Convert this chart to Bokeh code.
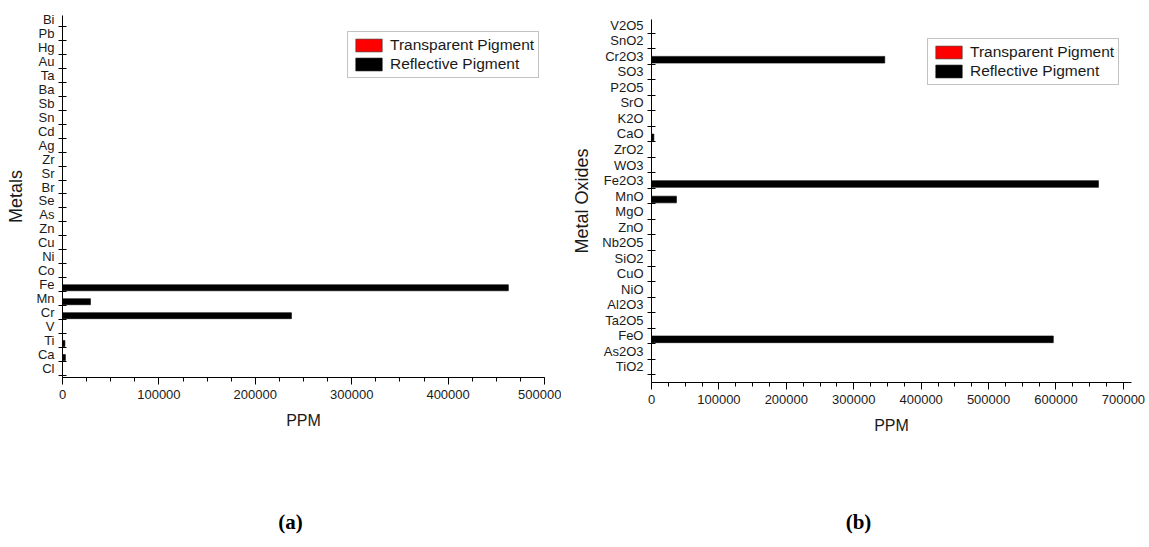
from bokeh.plotting import figure
from bokeh.models import (Range1d, FixedTicker, BasicTickFormatter, Legend, LegendItem,
                          Label, ColumnDataSource)
from bokeh.layouts import column, row
from bokeh.embed import file_html
from bokeh.resources import INLINE

# ---------------- data ----------------
metals = ["Cl", "Ca", "Ti", "V", "Cr", "Mn", "Fe", "Co", "Ni", "Cu", "Zn", "As", "Se",
          "Br", "Sr", "Zr", "Ag", "Cd", "Sn", "Sb", "Ba", "Ta", "Au", "Hg", "Pb", "Bi"]
metals_reflective = [0, 3000, 2500, 0, 237500, 29000, 462500, 0, 0, 0, 0, 0, 0,
                     0, 0, 0, 0, 0, 0, 0, 0, 0, 0, 0, 0, 0]
metals_transparent = [0] * len(metals)

oxides = ["TiO2", "As2O3", "FeO", "Ta2O5", "Al2O3", "NiO", "CuO", "SiO2", "Nb2O5", "ZnO",
          "MgO", "MnO", "Fe2O3", "WO3", "ZrO2", "CaO", "K2O", "SrO", "P2O5", "SO3",
          "Cr2O3", "SnO2", "V2O5"]
oxides_reflective = [0, 0, 596000, 0, 0, 0, 0, 0, 0, 0,
                     0, 37000, 663000, 0, 0, 3500, 0, 0, 0, 0,
                     346000, 0, 0]
oxides_transparent = [0] * len(oxides)

FONT = "Liberation Sans"
TXT = "#1a1a1a"


def make_panel(cats, refl, transp, ylabel, width, height, bl, br, bt, bb, xmax, yr,
               n_minor, legend_loc):
    n = len(cats)
    pos = list(range(n))
    p = figure(width=width, height=height, output_backend="svg", toolbar_location=None,
               x_range=Range1d(0, xmax), y_range=Range1d(*yr),
               min_border_left=bl, min_border_right=br, min_border_top=bt,
               min_border_bottom=bb, outline_line_color=None)
    p.grid.visible = False

    src = ColumnDataSource(dict(
        y_t=[v + 0.22 for v in pos], y_r=[v - 0.22 for v in pos],
        t=transp, r=refl))
    rt = p.hbar(y="y_t", left=0, right="t", height=0.43, source=src,
                fill_color="#ff0000", line_color="#333333", line_width=0.6)
    rr = p.hbar(y="y_r", left=0, right="r", height=0.43, source=src,
                fill_color="#000000", line_color="#000000", line_width=0.6)

    # x axis
    xa = p.xaxis[0]
    xa.formatter = BasicTickFormatter(use_scientific=False)
    xa.ticker.num_minor_ticks = n_minor
    xa.axis_label = "PPM"
    xa.axis_label_text_font = FONT
    xa.axis_label_text_font_size = "16px"
    xa.axis_label_text_font_style = "normal"
    xa.axis_label_text_color = TXT
    xa.axis_label_standoff = 10
    xa.major_label_text_font = FONT
    xa.major_label_text_font_size = "13px"
    xa.major_label_text_color = TXT
    xa.major_tick_in = 0
    xa.major_tick_out = 7
    xa.minor_tick_in = 0
    xa.minor_tick_out = 4
    xa.axis_line_color = "#000000"
    xa.major_tick_line_color = "#000000"
    xa.minor_tick_line_color = "#000000"
    xa.major_label_standoff = 5

    # y axis
    ya = p.yaxis[0]
    ya.ticker = FixedTicker(ticks=pos, minor_ticks=[v - 0.5 for v in pos] + [n - 0.5])
    ya.major_label_overrides = {v: c for v, c in zip(pos, cats)}
    ya.major_tick_line_color = None
    ya.major_tick_in = 0
    ya.major_tick_out = 0
    ya.minor_tick_in = 4
    ya.minor_tick_out = 4
    ya.minor_tick_line_color = "#000000"
    ya.axis_line_color = "#000000"
    ya.major_label_standoff = 4
    ya.major_label_text_font = FONT
    ya.major_label_text_font_size = "13px"
    ya.major_label_text_color = TXT
    ya.axis_label = ylabel
    ya.axis_label_text_font = FONT
    ya.axis_label_text_font_size = "18px"
    ya.axis_label_text_font_style = "normal"
    ya.axis_label_text_color = TXT
    ya.axis_label_standoff = 7

    leg = Legend(items=[LegendItem(label="Transparent Pigment", renderers=[rt]),
                        LegendItem(label="Reflective Pigment", renderers=[rr])],
                 location=legend_loc, orientation="vertical",
                 glyph_width=33, glyph_height=16, label_height=16, label_standoff=5,
                 spacing=1, padding=4, margin=0,
                 label_text_font=FONT, label_text_font_size="15.5px",
                 label_text_color=TXT,
                 border_line_color="#888888", border_line_width=1,
                 background_fill_color="white", background_fill_alpha=1.0)
    p.add_layout(leg, "center")
    return p


pa = make_panel(metals, metals_reflective, metals_transparent, "Metals",
                width=561, height=470, bl=62, br=17, bt=15, bb=93,
                xmax=500000, yr=(-0.65, 25.29), n_minor=4, legend_loc=(285, 299))
pb = make_panel(oxides, oxides_reflective, oxides_transparent, "Metal Oxides",
                width=588, height=470, bl=90, br=18, bt=19, bb=88,
                xmax=712000, yr=(-1.0, 22.37), n_minor=4, legend_loc=(276, 297))

pc = figure(width=1149, height=77, output_backend="svg", toolbar_location=None,
            x_range=Range1d(0, 1149), y_range=Range1d(0, 77),
            min_border=0, outline_line_color=None)
pc.axis.visible = False
pc.grid.visible = False
for txt, xx in [("(a)", 290), ("(b)", 858)]:
    pc.add_layout(Label(x=xx, y=26, text=txt, text_font="Liberation Serif",
                        text_font_size="21px", text_font_style="bold",
                        text_color="#000000", text_align="center",
                        text_baseline="middle"))

layout = column(row(column(pa), column(pb)), pc)
open("out.html", "w").write(file_html(layout, INLINE))
